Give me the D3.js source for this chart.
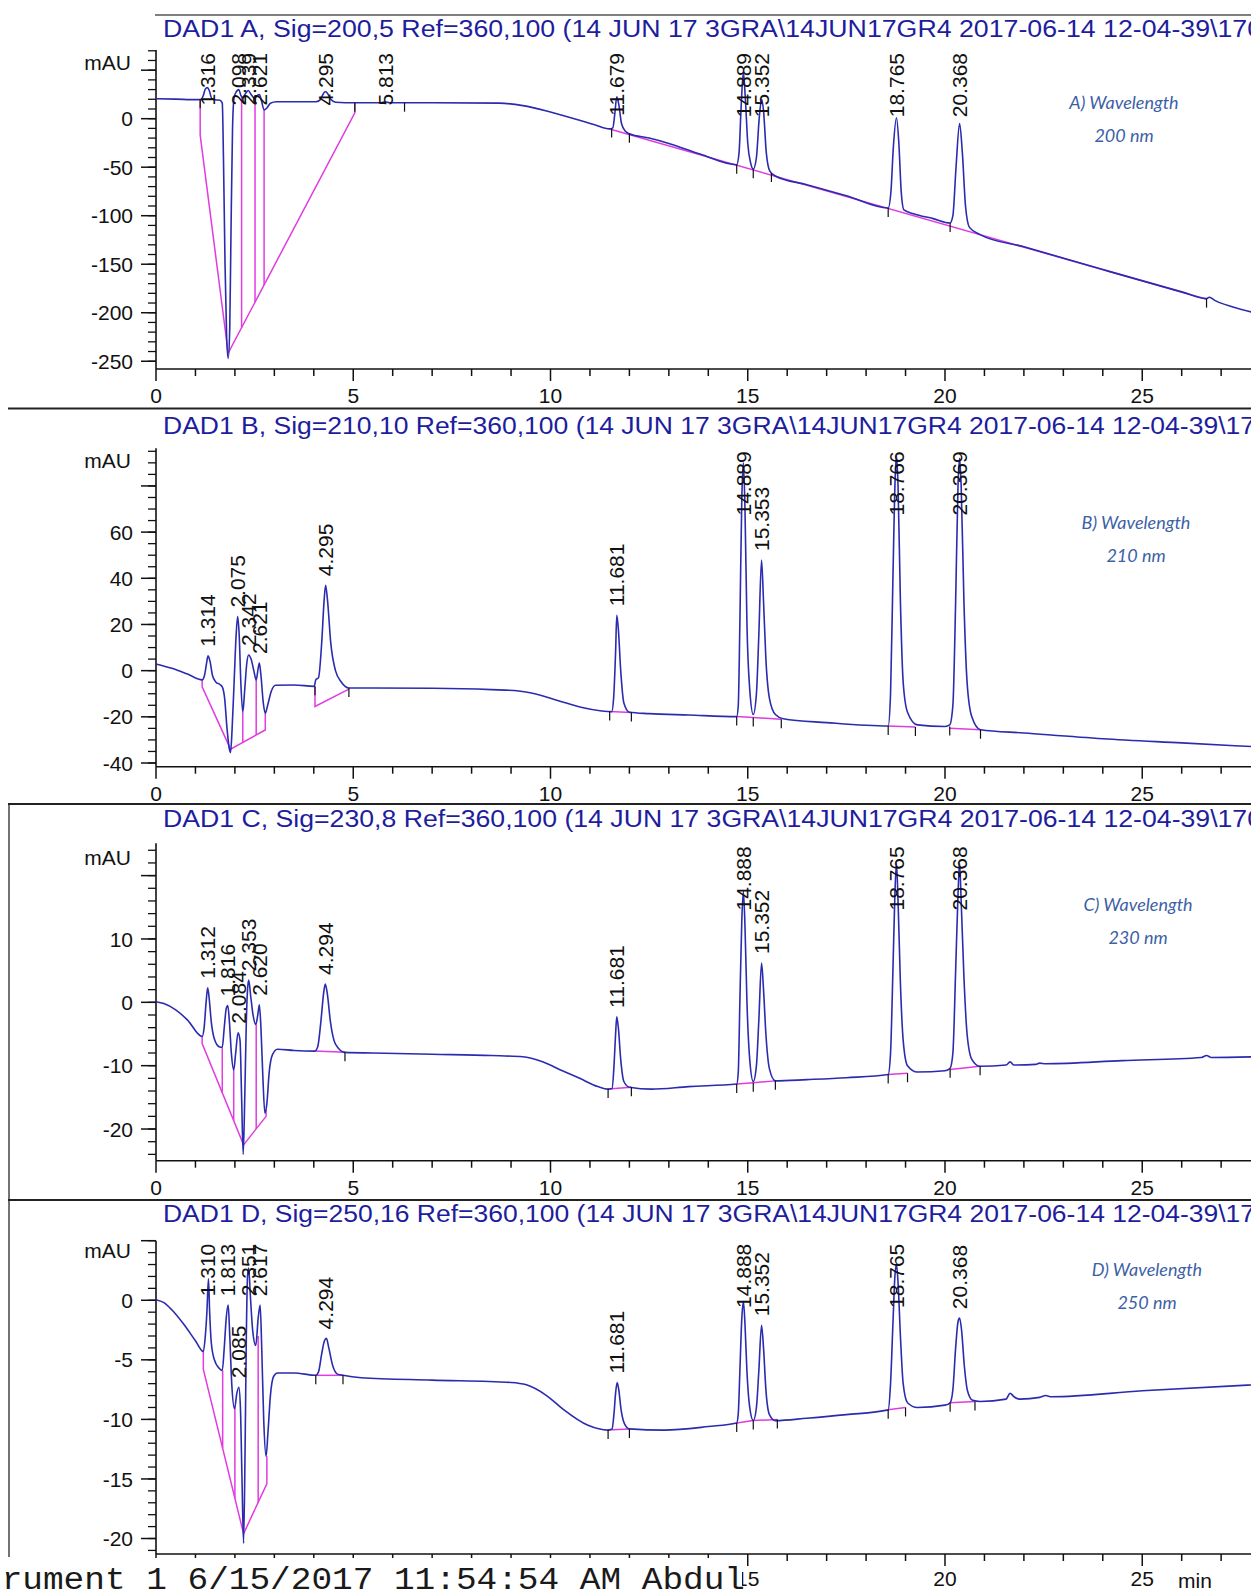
<!DOCTYPE html>
<html lang="en">
<head>
<meta charset="UTF-8">
<title>DAD1 chromatograms</title>
<script src="https://cdn.jsdelivr.net/npm/d3@7"></script>
<style>
  body { margin: 0; background: #fff; }
  svg { display: block; }
  text { font-family: "Liberation Sans", Arial, sans-serif; }
  .title { fill: #1d1d9e; font-size: 23px; }
  .tick-label { font-size: 21px; fill: #111; }
  .peak-label { font-size: 21px; fill: #111; }
  .note { font-family: Lato, "Open Sans", sans-serif; font-style: italic; font-size: 18px; fill: #3d5fa6; }
  .footer { font-family: "Liberation Mono", "DejaVu Sans Mono", monospace; font-size: 31px; fill: #1a1a1a; }
  .trace { fill: none; stroke: #2b2bb0; stroke-width: 1.6; }
  .base { fill: none; stroke: #e03ce0; stroke-width: 1.5; }
  .axis { stroke: #111; stroke-width: 1.6; fill: none; }
</style>
</head>
<body>
<svg id="chart" width="1251" height="1591"></svg>
<script>

const titles = [
  "DAD1 A, Sig=200,5 Ref=360,100 (14 JUN 17 3GRA\\14JUN17GR4 2017-06-14 12-04-39\\170",
  "DAD1 B, Sig=210,10 Ref=360,100 (14 JUN 17 3GRA\\14JUN17GR4 2017-06-14 12-04-39\\17",
  "DAD1 C, Sig=230,8 Ref=360,100 (14 JUN 17 3GRA\\14JUN17GR4 2017-06-14 12-04-39\\170",
  "DAD1 D, Sig=250,16 Ref=360,100 (14 JUN 17 3GRA\\14JUN17GR4 2017-06-14 12-04-39\\17"
];
const notes = [
  ["A) Wavelength", "200 nm"],
  ["B) Wavelength", "210 nm"],
  ["C) Wavelength", "230 nm"],
  ["D) Wavelength", "250 nm"]
];

// signal A (200 nm)
const traceA = [
  [0.00,20.5],[0.50,20.2],[1.00,19.6],[1.14,19.8],[1.20,24],[1.25,30.5],[1.30,32],[1.35,29],[1.41,21],
  [1.50,19.5],[1.62,19],[1.68,16],[1.71,-40],[1.75,-150],[1.79,-225],[1.83,-247],[1.87,-215],[1.90,-120],
  [1.94,-10],[1.98,22],[2.04,28],[2.10,30],[2.15,24],[2.20,22],[2.27,26],[2.34,29],[2.41,25],[2.50,21],
  [2.57,24],[2.62,25],[2.67,19],[2.74,9],[2.81,11],[2.90,16],[3.05,17.5],[3.60,17.5],[4.05,17.5],[4.15,19],
  [4.22,24],[4.29,28],[4.35,26],[4.43,20],[4.55,17],[4.80,16.5],[5.70,16.5],[5.81,17.5],[5.92,16.5],
  [7.00,16.5],[8.70,16],[9.30,13.5],[9.95,7.5],[10.60,0],[11.10,-6],[11.50,-10.5],[11.58,-9.5],[11.63,5],
  [11.68,22.5],[11.73,15],[11.80,-5],[11.90,-13],[12.00,-15.5],[12.50,-20],[13.00,-25.5],[13.79,-36.5],
  [14.72,-47.5],[14.78,-35],[14.83,10],[14.89,48],[14.94,20],[15.00,-25],[15.07,-45],[15.14,-52],
  [15.22,-40],[15.29,0],[15.35,20],[15.40,8],[15.47,-35],[15.56,-54],[15.70,-59],[16.50,-68],[17.50,-79.5],
  [18.56,-92],[18.63,-75],[18.69,-30],[18.77,1],[18.83,-25],[18.89,-75],[18.96,-94],[19.20,-98],
  [19.70,-103],[20.13,-107.5],[20.20,-100],[20.28,-50],[20.37,-5],[20.44,-35],[20.52,-90],[20.62,-112],
  [20.89,-119.5],[22.00,-132],[24.00,-155.5],[26.00,-178.5],[26.63,-185.5],[26.70,-184],[26.85,-187.5],
  [27.30,-194],[27.80,-199.5]
];
const baseA = [
  [[1.12,20],[1.12,-17],[1.83,-241.5],[5.04,6],[5.04,16.5]],
  [[2.17,23],[2.17,-215.3]],
  [[2.51,21],[2.51,-189.1]],
  [[2.74,9],[2.74,-171.3]],
  [[11.50,-10.6],[26.63,-186.1]]
];
const marksA = [[1.12,20],[5.04,16.5],[6.30,16.5],[11.55,-10],[12.00,-15.5],[14.72,-47.5],[15.14,-52],
  [15.60,-56],[18.56,-92],[20.13,-107.5],[26.63,-185.5]];
const peaksA = ["1.316","2.098","2.339","2.621","4.295","5.813","11.679","14.889","15.352","18.765","20.368"];
const apexA = [32, 30, 29, 25, 28, 17.5, 22.5, 48, 20, 1, -5];

// signal B (210 nm)
const traceB = [
  [0.00,2.9],[0.40,1.0],[0.80,-1.5],[1.17,-4],[1.23,-2],[1.28,3],[1.32,6.4],[1.37,4],[1.43,-2],[1.52,-5],
  [1.62,-6],[1.68,-7],[1.74,-12],[1.80,-25],[1.86,-34],[1.89,-35.5],[1.93,-25],[1.98,-5],[2.03,15],
  [2.07,23.4],[2.11,15],[2.15,-5],[2.20,-18],[2.25,-8],[2.30,3],[2.35,6.8],[2.41,5],[2.48,0],[2.54,-4],
  [2.59,1],[2.62,3.3],[2.66,-2],[2.72,-14],[2.77,-18.5],[2.83,-15],[2.92,-9],[3.03,-6.3],[3.50,-6.2],
  [4.01,-6.8],[4.05,-4],[4.12,-3],[4.20,12],[4.26,30],[4.30,37],[4.35,30],[4.43,12],[4.55,0],[4.70,-5],
  [4.89,-7.5],[5.50,-7.5],[7.00,-7.6],[8.50,-8.2],[9.20,-8.8],[9.60,-10],[10.20,-13],[10.80,-16],
  [11.30,-17.5],[11.55,-17.8],[11.60,-12],[11.65,8],[11.68,24],[11.72,18],[11.78,0],[11.86,-14],
  [12.00,-18],[12.50,-18.6],[13.50,-19.2],[14.72,-19.9],[14.76,-15],[14.80,20],[14.85,75],[14.89,90],
  [14.93,70],[14.98,20],[15.05,-8],[15.14,-19],[15.22,-10],[15.28,15],[15.35,47.9],[15.40,30],[15.46,5],
  [15.55,-12],[15.70,-19],[15.90,-20.8],[17.00,-22.5],[18.56,-24.0],[18.62,-10],[18.68,40],[18.74,85],
  [18.77,93],[18.81,80],[18.87,30],[18.94,-5],[19.05,-18],[19.30,-23.5],[20.00,-24.2],[20.12,-23.5],
  [20.20,-15],[20.27,30],[20.33,80],[20.37,92],[20.41,80],[20.48,30],[20.56,-5],[20.68,-20],[20.90,-25.6],
  [22.00,-27],[24.00,-29.5],[26.00,-31.3],[27.80,-32.9]
];
const baseB = [
  [[1.17,-4],[1.17,-7],[1.89,-34],[2.77,-25.7],[2.77,-18.5]],
  [[2.20,-18],[2.20,-31.1]],
  [[2.54,-4],[2.54,-27.9]],
  [[4.03,-7],[4.03,-15.5],[4.89,-8]],
  [[11.50,-17.7],[12.05,-18.1]],
  [[14.72,-19.9],[15.14,-20.3],[15.85,-21]],
  [[18.56,-24.0],[19.25,-24.4]],
  [[20.12,-24.9],[20.90,-25.6]]
];
const marksB = [[4.03,-6.8],[4.89,-7.5],[11.50,-17.7],[12.05,-18.1],[14.72,-19.9],[15.14,-20.3],
  [15.85,-21],[18.56,-24],[19.25,-24.4],[20.12,-24.2],[20.90,-25.6]];
const peaksB = ["1.314","2.075","2.342","2.621","4.295","11.681","14.889","15.353","18.766","20.369"];
const apexB = [6.4, 23.4, 6.8, 3.3, 37, 24, 90, 47.9, 93, 92];

// signal C (230 nm)
const traceC = [
  [0.00,0.1],[0.20,-0.2],[0.50,-1.2],[0.80,-2.8],[1.17,-5.4],[1.22,-4],[1.27,0],[1.31,2.3],[1.35,0.5],
  [1.40,-3],[1.48,-5.8],[1.60,-7],[1.68,-7.1],[1.73,-4],[1.78,-1],[1.82,-0.5],[1.86,-3],[1.91,-8],
  [1.97,-10.7],[2.02,-8],[2.08,-4.8],[2.13,-6],[2.17,-15],[2.21,-24],[2.25,-15],[2.29,-3],[2.32,2],
  [2.35,3.5],[2.40,1],[2.46,-2],[2.53,-3.5],[2.58,-2],[2.62,-0.4],[2.66,-4],[2.71,-12],[2.76,-17.5],
  [2.81,-16],[2.87,-11],[2.95,-8.3],[3.08,-7.4],[3.50,-7.6],[4.02,-7.7],[4.10,-7],[4.18,-3],[4.25,1.5],
  [4.29,2.9],[4.34,1.5],[4.42,-3],[4.55,-6.6],[4.79,-7.9],[5.50,-8.0],[7.00,-8.2],[8.50,-8.4],[9.30,-8.6],
  [9.80,-9.4],[10.30,-10.8],[10.74,-12.0],[11.20,-13.3],[11.46,-13.7],[11.56,-13.6],[11.61,-10],
  [11.65,-5],[11.68,-2.3],[11.72,-4],[11.78,-9],[11.86,-12.5],[12.00,-13.4],[12.56,-13.7],[13.50,-13.3],
  [14.72,-12.9],[14.76,-11],[14.80,0],[14.85,13],[14.89,17.5],[14.93,12],[14.98,0],[15.05,-9],
  [15.14,-12.5],[15.22,-10],[15.28,-3],[15.35,6.2],[15.40,2],[15.46,-5],[15.55,-10.5],[15.70,-12.4],
  [16.50,-12.2],[17.50,-11.9],[18.56,-11.4],[18.62,-8],[18.68,5],[18.73,17],[18.77,22],[18.81,16],
  [18.87,3],[18.94,-6],[19.05,-10],[19.30,-11],[20.00,-10.8],[20.13,-10.4],[20.20,-8],[20.27,5],
  [20.33,17],[20.37,22],[20.41,16],[20.48,4],[20.56,-5],[20.68,-9],[20.89,-10.1],[21.55,-9.9],
  [21.65,-9.4],[21.75,-9.9],[22.30,-9.8],[22.40,-9.6],[22.55,-9.7],[24.50,-9.2],[26.50,-8.7],
  [26.63,-8.4],[26.75,-8.7],[27.80,-8.6]
];
const baseC = [
  [[1.17,-5.4],[1.17,-6.5],[2.22,-22.5],[2.79,-18],[2.79,-17]],
  [[1.68,-7.1],[1.68,-14.3]],
  [[1.97,-10.7],[1.97,-18.7]],
  [[2.54,-3.5],[2.54,-20.0]],
  [[4.02,-7.7],[4.79,-7.9]],
  [[11.46,-13.7],[12.05,-13.4]],
  [[14.72,-12.9],[15.14,-12.7],[15.70,-12.4]],
  [[18.56,-11.4],[19.05,-11.2]],
  [[20.13,-10.6],[20.89,-10.1]]
];
const marksC = [[4.79,-7.9],[11.46,-13.7],[12.05,-13.4],[14.72,-12.9],[15.14,-12.7],[15.70,-12.4],
  [18.56,-11.4],[19.05,-11.2],[20.13,-10.5],[20.89,-10.1]];
const peaksC = ["1.312","1.816","2.084","2.353","2.620","4.294","11.681","14.888","15.352","18.765","20.368"];
const apexC = [2.3, -0.5, -4.8, 3.5, -0.4, 2.9, -2.3, 17.5, 6.2, 22, 22];

// signal D (250 nm)
const traceD = [
  [0.00,0.05],[0.20,-0.2],[0.40,-0.8],[0.70,-2.0],[1.00,-3.4],[1.20,-4.3],[1.25,-3],[1.29,-1],[1.33,1.8],
  [1.36,-1],[1.40,-3.5],[1.48,-5],[1.60,-5.7],[1.68,-5.9],[1.73,-4],[1.78,-1.5],[1.83,-0.4],[1.87,-3],
  [1.92,-7],[1.99,-9.1],[2.05,-7.8],[2.10,-7.3],[2.14,-9],[2.18,-15],[2.22,-20.4],[2.26,-12],[2.29,-3],
  [2.32,2],[2.35,2.7],[2.39,0.5],[2.45,-2.5],[2.53,-3.8],[2.59,-1.5],[2.64,-0.4],[2.68,-4],[2.73,-10],
  [2.79,-13.1],[2.84,-11],[2.90,-8],[2.98,-6.4],[3.08,-6.1],[3.50,-6.1],[4.05,-6.3],[4.12,-6],[4.20,-4.5],
  [4.27,-3.4],[4.32,-3.2],[4.38,-4],[4.48,-5.5],[4.60,-6.2],[4.74,-6.3],[5.20,-6.5],[7.00,-6.7],
  [9.00,-6.9],[9.39,-7.1],[9.90,-8],[10.30,-9.1],[10.95,-10.5],[11.46,-10.9],[11.56,-10.8],[11.61,-9.5],
  [11.65,-7.8],[11.69,-6.9],[11.73,-7.5],[11.79,-9.2],[11.88,-10.4],[12.00,-10.8],[12.88,-10.9],
  [14.00,-10.6],[14.72,-10.3],[14.76,-9.5],[14.80,-6],[14.85,-1.5],[14.89,-0.1],[14.93,-2],[14.98,-6],
  [15.05,-9],[15.14,-10.1],[15.22,-9],[15.28,-6],[15.35,-2.1],[15.40,-4],[15.46,-7.5],[15.55,-9.6],
  [15.70,-10.1],[16.50,-9.9],[17.50,-9.6],[18.56,-9.2],[18.62,-7],[18.68,-2],[18.73,2],[18.77,3],
  [18.81,1.5],[18.87,-3],[18.94,-7],[19.05,-8.6],[19.30,-9.0],[20.00,-8.8],[20.13,-8.6],[20.20,-7.5],
  [20.27,-4],[20.33,-1.8],[20.37,-1.5],[20.42,-2.5],[20.49,-5.5],[20.57,-7.6],[20.70,-8.4],[20.89,-8.5],
  [21.55,-8.3],[21.65,-7.8],[21.75,-8.1],[21.90,-8.3],[22.40,-8.15],[22.55,-8.0],[22.70,-8.1],
  [25.00,-7.6],[27.80,-7.1]
];
const baseD = [
  [[1.20,-4.3],[1.20,-5.8],[2.22,-19.6],[2.81,-15.4],[2.81,-13.1]],
  [[1.69,-5.9],[1.69,-12.4]],
  [[2.00,-8.9],[2.00,-16.6]],
  [[2.59,-3.0],[2.59,-17.0]],
  [[4.05,-6.3],[4.74,-6.3]],
  [[11.46,-10.9],[12.00,-10.8]],
  [[14.72,-10.3],[15.14,-10.1],[15.75,-10.0]],
  [[18.56,-9.2],[19.00,-9.0]],
  [[20.13,-8.6],[20.76,-8.5]]
];
const marksD = [[4.05,-6.3],[4.74,-6.3],[11.46,-10.9],[12.00,-10.8],[14.72,-10.3],[15.14,-10.1],
  [15.75,-10],[18.56,-9.2],[19.00,-9.0],[20.13,-8.6],[20.76,-8.5]];
const peaksD = ["1.310","1.813","2.085","2.351","2.617","4.294","11.681","14.888","15.352","18.765","20.368"];
const apexD = [1.8, -0.4, -7.3, 2.7, -0.4, -3.2, -6.9, -0.1, -2.1, 3, -1.5];

// y axis ticks (major, with labels; "" = tick only) and x tick labels
const yMajorA = [50, 0, -50, -100, -150, -200, -250];
const yLabelA = ["", "0", "-50", "-100", "-150", "-200", "-250"];
const yMajorB = [80, 60, 40, 20, 0, -20, -40];
const yLabelB = ["", "60", "40", "20", "0", "-20", "-40"];
const yMajorC = [20, 10, 0, -10, -20];
const yLabelC = ["", "10", "0", "-10", "-20"];
const yMajorD = [5, 0, -5, -10, -15, -20];
const yLabelD = ["", "0", "-5", "-10", "-15", "-20"];
const xMajor = [0, 5, 10, 15, 20, 25];
const xMajorLast = [15, 20, 25];   // 0, 5 and 10 lie under the printout footer
const footer = "trument 1 6/15/2017 11:54:54 AM Abdul";

// ---- layout ----
const svg = d3.select("#chart");
const x = d3.scaleLinear().domain([0, 27.8]).range([156, 1252.7]);

const panels = [
  { trace: traceA, base: baseA, marks: marksA, peaks: peaksA, apex: apexA, major: yMajorA, labels: yLabelA,
    minor: d3.range(-250, 71, 10), dom: [-258, 70.8], top: 50, bottom: 369, xLabs: xMajor, titleLen: 1099,
    titleY: 36.5, unitY: 70, xLabY: 403, sepY: 15, sepX: 155, noteX: 1124, noteY: [109, 142] },
  { trace: traceB, base: baseB, marks: marksB, peaks: peaksB, apex: apexB, major: yMajorB, labels: yLabelB,
    minor: d3.range(-40, 96, 5), dom: [-41.6, 96.3], top: 448.3, bottom: 766.7, xLabs: xMajor, titleLen: 1092,
    titleY: 433.5, unitY: 468, xLabY: 801, sepY: 408.5, sepX: 8, noteX: 1136, noteY: [529, 562] },
  { trace: traceC, base: baseC, marks: marksC, peaks: peaksC, apex: apexC, major: yMajorC, labels: yLabelC,
    minor: d3.range(-24, 25, 2), dom: [-25, 25.1], top: 843.3, bottom: 1160.7, xLabs: xMajor, titleLen: 1099,
    titleY: 827, unitY: 865, xLabY: 1195, sepY: 804, sepX: 8, noteX: 1138, noteY: [911, 944] },
  { trace: traceD, base: baseD, marks: marksD, peaks: peaksD, apex: apexD, major: yMajorD, labels: yLabelD,
    minor: d3.range(-21, 6, 1), dom: [-21.3, 5.0], top: 1240.7, bottom: 1554, xLabs: xMajorLast, titleLen: 1092,
    titleY: 1222, unitY: 1258, xLabY: 1586, sepY: 1200, sepX: 8, noteX: 1147, noteY: [1276, 1309] }
];

// scan edge on the left of the lower panels
svg.append("line").attr("x1", 9).attr("x2", 9).attr("y1", 804).attr("y2", 1557)
  .attr("stroke", "#444").attr("stroke-width", 1.5);

panels.forEach((p, k) => {
  const y = d3.scaleLinear().domain(p.dom).range([p.bottom, p.top]);
  const g = svg.append("g");

  // separator line and title
  g.append("line").attr("x1", p.sepX).attr("x2", 1251).attr("y1", p.sepY).attr("y2", p.sepY)
    .attr("stroke", k === 0 ? "#555" : "#222").attr("stroke-width", k === 0 ? 1.5 : 2);
  g.append("text").attr("class", "title").attr("x", 163).attr("y", p.titleY)
    .attr("textLength", p.titleLen).attr("lengthAdjust", "spacingAndGlyphs").text(titles[k]);

  // y axis
  g.append("line").attr("class", "axis").attr("x1", 156).attr("x2", 156).attr("y1", p.top).attr("y2", p.bottom);
  g.selectAll(".ymin").data(p.minor).enter().append("line")
    .attr("x1", 148).attr("x2", 156).attr("y1", d => y(d)).attr("y2", d => y(d))
    .attr("stroke", "#111").attr("stroke-width", 1.3);
  g.selectAll(".ymaj").data(p.major).enter().append("line")
    .attr("x1", 141).attr("x2", 156).attr("y1", d => y(d)).attr("y2", d => y(d))
    .attr("stroke", "#111").attr("stroke-width", 1.5);
  g.selectAll(".ylab").data(p.major).enter().append("text")
    .attr("class", "tick-label").attr("text-anchor", "end")
    .attr("x", 133).attr("y", d => y(d)).attr("dy", "0.36em")
    .text((d, i) => p.labels[i]);
  g.append("text").attr("class", "tick-label").attr("text-anchor", "end")
    .attr("x", 131).attr("y", p.unitY).text("mAU");

  // x axis
  g.append("line").attr("class", "axis").attr("x1", 156).attr("x2", 1251)
    .attr("y1", p.bottom).attr("y2", p.bottom).attr("stroke-width", 2);
  g.selectAll(".xmin").data(d3.range(0, 28, 1)).enter().append("line")
    .attr("x1", d => x(d)).attr("x2", d => x(d))
    .attr("y1", p.bottom).attr("y2", d => p.bottom + (d % 5 === 0 ? 12 : 7))
    .attr("stroke", "#111").attr("stroke-width", 1.5);
  g.selectAll(".xlab").data(p.xLabs).enter().append("text")
    .attr("class", "tick-label").attr("text-anchor", "middle")
    .attr("x", d => x(d)).attr("y", p.xLabY).text(d => d);

  // integration baselines (magenta) under the signal
  const seg = d3.line().x(d => x(d[0])).y(d => y(d[1]));
  g.selectAll(".base").data(p.base).enter().append("path")
    .attr("class", "base").attr("d", seg);

  // signal
  const line = d3.line().x(d => x(d[0])).y(d => y(d[1])).curve(d3.curveMonotoneX);
  g.append("path").datum(p.trace).attr("class", "trace").attr("d", line);

  // peak start/end marks
  g.selectAll(".mark").data(p.marks).enter().append("line")
    .attr("x1", d => x(d[0])).attr("x2", d => x(d[0]))
    .attr("y1", d => y(d[1])).attr("y2", d => y(d[1]) + 9)
    .attr("stroke", "#111").attr("stroke-width", 1.2);

  // retention time labels, pushed down when they would leave the plot
  p.peaks.forEach((lab, i) => {
    const t = g.append("text").attr("class", "peak-label").attr("dy", "0.36em").text(lab);
    const len = t.node().getComputedTextLength();
    const yb = Math.max(y(p.apex[i]) - 9, p.top + 3 + len);
    t.attr("transform", `translate(${x(+lab)},${yb}) rotate(-90)`);
  });

  // wavelength note
  g.selectAll(".note").data(notes[k]).enter().append("text")
    .attr("class", "note").attr("text-anchor", "middle")
    .attr("x", p.noteX).attr("y", (d, i) => p.noteY[i]).text(d => d);
});

// printout footer over the start of the last time axis
svg.append("rect").attr("x", 0).attr("y", 1558).attr("width", 742).attr("height", 33).attr("fill", "#fff");
svg.append("text").attr("class", "footer").attr("x", -19).attr("y", 1589)
  .attr("textLength", 764).attr("lengthAdjust", "spacingAndGlyphs")
  .text(footer);
svg.append("text").attr("class", "tick-label").attr("x", 1195).attr("y", 1588)
  .attr("text-anchor", "middle").text("min");
</script>
</body>
</html>
